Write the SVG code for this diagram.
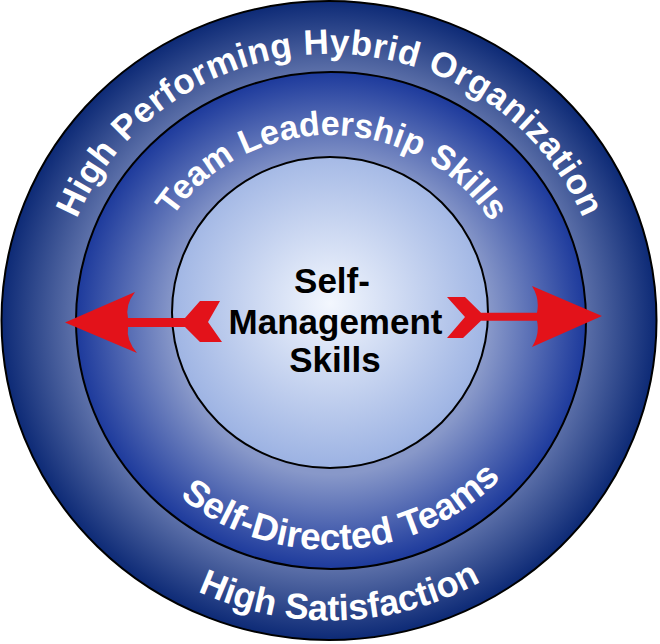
<svg xmlns="http://www.w3.org/2000/svg" width="660" height="644" viewBox="0 0 660 644">
<defs>
<radialGradient id="gOuter" cx="50%" cy="50%" r="50%">
<stop offset="0" stop-color="#6175ab"/>
<stop offset="0.78" stop-color="#5b6fa8"/>
<stop offset="1" stop-color="#0d2a76"/>
</radialGradient>
<radialGradient id="gMid" cx="50%" cy="50%" r="50%">
<stop offset="0.62" stop-color="#8898c9"/>
<stop offset="1" stop-color="#1d3a9c"/>
</radialGradient>
<radialGradient id="gIn" cx="50%" cy="47%" r="52%">
<stop offset="0" stop-color="#f3f7fe"/>
<stop offset="1" stop-color="#9db3e3"/>
</radialGradient>
<path id="pOuterTop" d="M60.1,366.9 A274,267 0 1,1 599.9,366.9"/>
<path id="pMidTop" d="M142.3,349.5 A190,185.5 0 1,1 516.5,355.9"/>
<path id="pMidBot" d="M96.5,294.5 A235,229.5 0 1,0 558.5,266.9"/>
<path id="pOuterBot" d="M25.5,278.7 A307.5,300 0 1,0 630.8,258.1"/>
</defs>
<style>
.ring{stroke:#000;stroke-width:2}
.rt{font-family:"Liberation Sans",Arial,sans-serif;font-weight:bold;fill:#fff;text-anchor:middle}
.ct{font-family:"Liberation Sans",Arial,sans-serif;font-weight:bold;font-size:35px;fill:#000;text-anchor:middle}
.arrow{fill:#e3121a}
</style>
<g id="outer-ring">
<ellipse class="ring" cx="329" cy="320.5" rx="327.5" ry="319.5" fill="url(#gOuter)"/>
<text class="rt" font-size="35" letter-spacing="0.6"><textPath href="#pOuterTop" startOffset="50%">High Performing Hybrid Organization</textPath></text>
<text class="rt" font-size="36"><textPath href="#pOuterBot" startOffset="50%">High Satisfaction</textPath></text>
</g>
<g id="middle-ring">
<ellipse class="ring" cx="331" cy="320.5" rx="255" ry="248.5" fill="url(#gMid)"/>
<text class="rt" font-size="34"><textPath href="#pMidTop" startOffset="50%">Team Leadership Skills</textPath></text>
<text class="rt" font-size="37"><textPath href="#pMidBot" startOffset="50%">Self-Directed Teams</textPath></text>
</g>
<g id="inner-circle">
<ellipse class="ring" cx="330" cy="312.5" rx="158" ry="155.5" fill="url(#gIn)"/>
<text class="ct" x="332" y="293">Self-</text>
<text class="ct" x="335.5" y="334">Management</text>
<text class="ct" x="335" y="372">Skills</text>
</g>
<g id="connectors">
<path class="arrow" d="M65,322.5 L135,292 Q125,305 128,318 L185,318 L200,301 L220,301 L208,322 L222,342 L200,342 L185,327 L128,327 Q126,340 137,353 Z"/>
<path class="arrow" d="M602,316 L532,286 Q540,299 537,312.7 L481,312.7 L465,297 L447,297 L465,317 L447,338 L463,338 L481,320.7 L537,320.7 Q540,334 532,347 Z"/>
</g>
</svg>
